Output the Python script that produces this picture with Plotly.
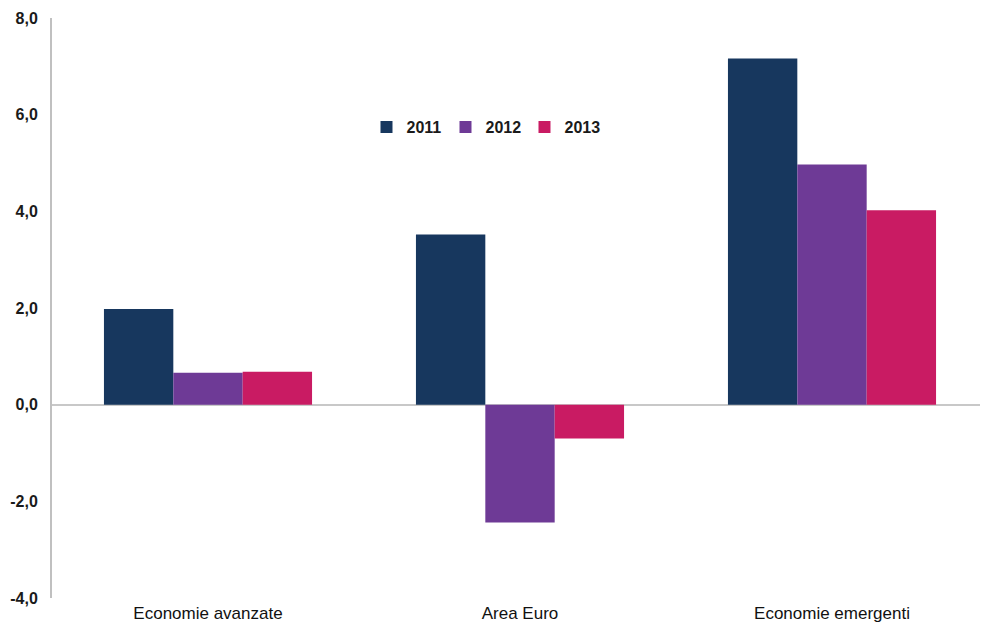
import plotly.graph_objects as go

categories = ["Economie avanzate", "Area Euro", "Economie emergenti"]
years = ["2011", "2012", "2013"]
values_2011 = [1.98, 3.52, 7.16]
values_2012 = [0.66, -2.44, 4.97]
values_2013 = [0.68, -0.70, 4.02]
colors = ["#17375E", "#6E3A96", "#C91B63"]
y_ticks = [-4, -2, 0, 2, 4, 6, 8]
y_tick_text = [("%.1f" % v).replace(".", ",") for v in y_ticks]

fig = go.Figure()
for name, vals, col in zip(years, [values_2011, values_2012, values_2013], colors):
    fig.add_trace(go.Bar(x=categories, y=vals, name=name, marker=dict(color=col, line=dict(width=0))))

FONT = "Liberation Sans, Arial, sans-serif"
fig.update_layout(
    width=980, height=618,
    margin=dict(l=44, r=0, t=10, b=28),
    paper_bgcolor="white", plot_bgcolor="white",
    barmode="group", bargap=0.333, bargroupgap=0,
    font=dict(family=FONT, color="#000000"),
    legend=dict(
        orientation="h", x=0.336, y=0.812, xanchor="left", yanchor="middle",
        font=dict(size=16, family=FONT, weight="bold", color="#1a1a1a"),
        bgcolor="rgba(0,0,0,0)", itemwidth=30, entrywidth=34,
    ),
    showlegend=True,
)
fig.update_yaxes(
    range=[-4, 8], tickvals=y_ticks, ticktext=y_tick_text,
    showgrid=False, zeroline=True, zerolinecolor="#C8C8C8", zerolinewidth=2,
    showline=True, linecolor="#C0C0C0", linewidth=2,
    ticks="", ticklabelstandoff=9,
    tickfont=dict(size=16, family=FONT, weight="bold", color="#1a1a1a"),
)
fig.update_xaxes(
    showgrid=False, showline=False, ticks="",
    ticklabelstandoff=3,
    tickfont=dict(size=17, family=FONT, color="#111111"),
)
fig.write_html("out.html")
